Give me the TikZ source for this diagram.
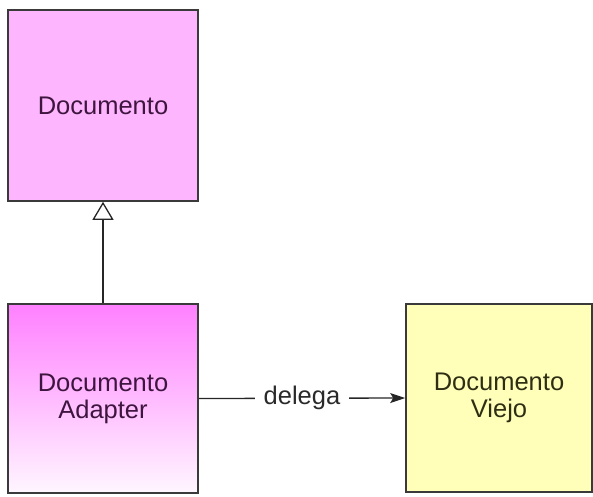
\documentclass[tikz,border=0pt]{standalone}
\usepackage{fontspec}
\setmainfont{Liberation Sans}
\usetikzlibrary{arrows.meta,shadows}
\definecolor{boxline}{HTML}{3A3A3A}
\definecolor{pinkfill}{HTML}{FDB6FD}
\definecolor{magtop}{HTML}{FF80FF}
\definecolor{magbot}{HTML}{FFF6FF}
\definecolor{yelfill}{HTML}{FFFFBA}
\definecolor{purptext}{HTML}{3E153E}
\definecolor{olivetext}{HTML}{2E2E14}
\definecolor{labeltext}{HTML}{2A2A2A}
\begin{document}
\begin{tikzpicture}[x=1pt,y=-1pt,
  classbox/.style={draw=boxline,line width=1.6pt,minimum width=190pt,minimum height=190pt,
    inner sep=0pt,align=center,font=\fontsize{25.5}{27}\selectfont,
    drop shadow={shadow xshift=1pt,shadow yshift=-1pt,opacity=0.35}},
  conn/.style={line width=1.3pt,draw=black!85}]
\useasboundingbox (0,0) rectangle (593,496);
\node[classbox,fill=pinkfill,text=purptext,minimum height=191pt] (doc) at (103,105.5) {Documento};
\node[classbox,top color=magtop,bottom color=magbot,text=purptext,minimum height=189pt] (adp) at (103,398.5) {Documento\\Adapter};
\node[classbox,fill=yelfill,text=olivetext,minimum width=186pt,minimum height=188pt] (old) at (499,398) {Documento\\Viejo};
\draw[conn,-{Triangle[open,width=21pt,length=18pt,line width=1.3pt]}] (adp.north) -- (doc.south);
\draw[conn,-{Stealth[length=15pt,width=10pt,inset=3pt]}] (adp.east) -- node[fill=white,text=labeltext,inner xsep=9pt,font=\fontsize{25.5}{27}\selectfont] (lbl) {delega} (old.west);
\end{tikzpicture}
\end{document}
